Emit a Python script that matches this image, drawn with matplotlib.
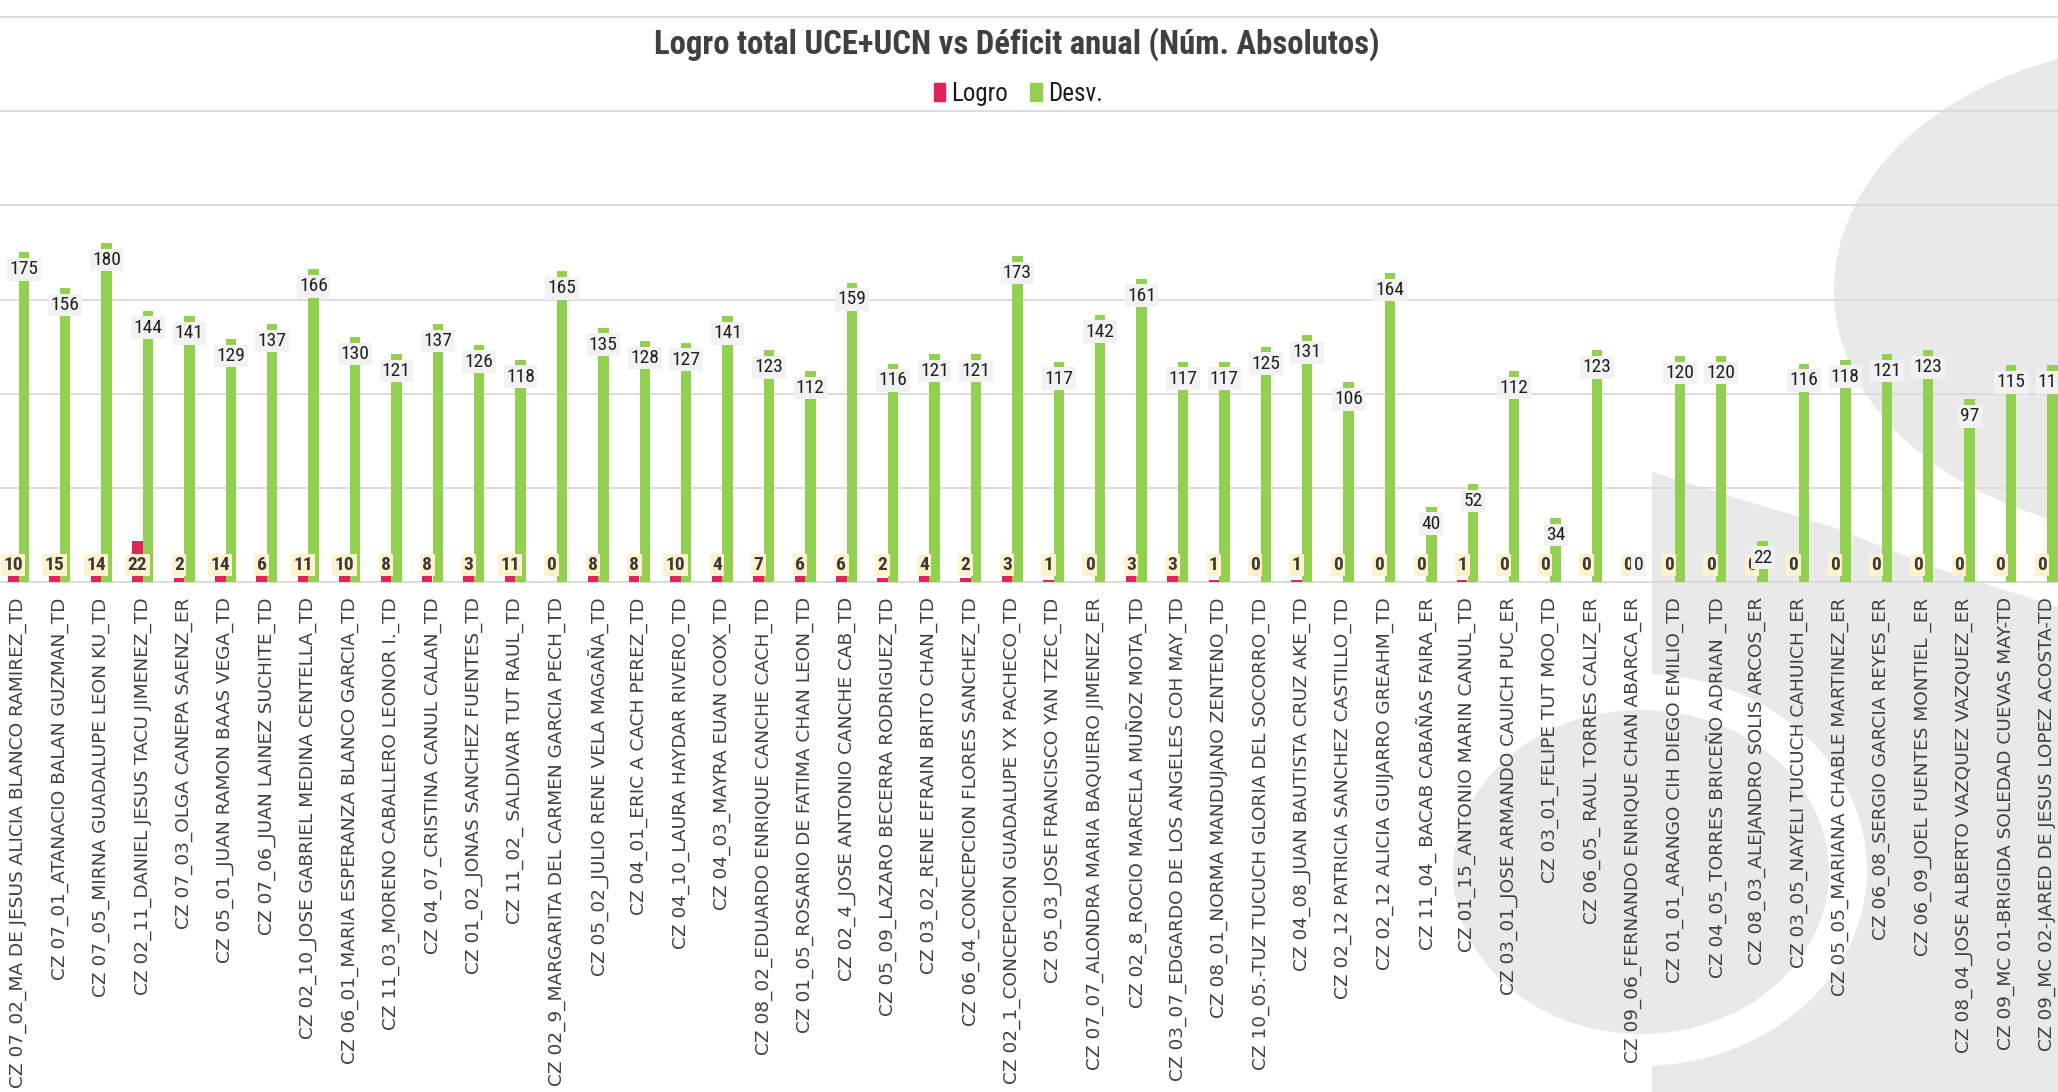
import matplotlib
matplotlib.use("Agg")
import matplotlib.pyplot as plt
import numpy as np
from matplotlib import font_manager
from matplotlib.patches import Ellipse, Polygon, Patch

nombres = [
    "CZ 07_02_MA DE JESUS ALICIA BLANCO RAMIREZ_TD",
    "CZ 07_01_ATANACIO BALAN GUZMAN_TD",
    "CZ 07_05_MIRNA GUADALUPE LEON KU_TD",
    "CZ 02_11_DANIEL JESUS TACU JIMENEZ_TD",
    "CZ 07_03_OLGA CANEPA SAENZ_ER",
    "CZ 05_01_JUAN RAMON BAAS VEGA_TD",
    "CZ 07_06_JUAN LAINEZ SUCHITE_TD",
    "CZ 02_10_JOSE GABRIEL MEDINA CENTELLA_TD",
    "CZ 06_01_MARIA ESPERANZA BLANCO GARCIA_TD",
    "CZ 11_03_MORENO CABALLERO LEONOR I._TD",
    "CZ 04_07_CRISTINA CANUL CALAN_TD",
    "CZ 01_02_JONAS SANCHEZ FUENTES_TD",
    "CZ 11_02_ SALDIVAR TUT RAUL_TD",
    "CZ 02_9_MARGARITA DEL CARMEN GARCIA PECH_TD",
    "CZ 05_02_JULIO RENE VELA MAGAÑA_TD",
    "CZ 04_01_ERIC A CACH PEREZ_TD",
    "CZ 04_10_LAURA HAYDAR RIVERO_TD",
    "CZ 04_03_MAYRA EUAN COOX_TD",
    "CZ 08_02_EDUARDO ENRIQUE CANCHE CACH_TD",
    "CZ 01_05_ROSARIO DE FATIMA CHAN LEON_TD",
    "CZ 02_4_JOSE ANTONIO CANCHE CAB_TD",
    "CZ 05_09_LAZARO BECERRA RODRIGUEZ_TD",
    "CZ 03_02_RENE EFRAIN BRITO CHAN_TD",
    "CZ 06_04_CONCEPCION FLORES SANCHEZ_TD",
    "CZ 02_1_CONCEPCION GUADALUPE YX PACHECO_TD",
    "CZ 05_03_JOSE FRANCISCO YAN TZEC_TD",
    "CZ 07_07_ALONDRA MARIA BAQUIERO JIMENEZ_ER",
    "CZ 02_8_ROCIO MARCELA MUÑOZ MOTA_TD",
    "CZ 03_07_EDGARDO DE LOS ANGELES COH MAY_TD",
    "CZ 08_01_NORMA MANDUJANO ZENTENO_TD",
    "CZ 10_05.-TUZ TUCUCH GLORIA DEL SOCORRO_TD",
    "CZ 04_08_JUAN BAUTISTA CRUZ AKE_TD",
    "CZ 02_12 PATRICIA SANCHEZ CASTILLO_TD",
    "CZ 02_12 ALICIA GUIJARRO GREAHM_TD",
    "CZ 11_04_ BACAB CABAÑAS FAIRA_ER",
    "CZ 01_15_ANTONIO MARIN CANUL_TD",
    "CZ 03_01_JOSE ARMANDO CAUICH PUC_ER",
    "CZ 03_01_FELIPE TUT MOO_TD",
    "CZ 06_05_ RAUL TORRES CALIZ_ER",
    "CZ 09_06_FERNANDO ENRIQUE CHAN ABARCA_ER",
    "CZ 01_01_ARANGO CIH DIEGO EMILIO_TD",
    "CZ 04_05_TORRES BRICEÑO ADRIAN _TD",
    "CZ 08_03_ALEJANDRO SOLIS ARCOS_ER",
    "CZ 03_05_NAYELI TUCUCH CAHUICH_ER",
    "CZ 05_05_MARIANA CHABLE MARTINEZ_ER",
    "CZ 06_08_SERGIO GARCIA REYES_ER",
    "CZ 06_09_JOEL FUENTES MONTIEL _ER",
    "CZ 08_04_JOSE ALBERTO VAZQUEZ VAZQUEZ_ER",
    "CZ 09_MC 01-BRIGIDA SOLEDAD CUEVAS MAY-TD",
    "CZ 09_MC 02-JARED DE JESUS LOPEZ ACOSTA-TD",
]

logro = [10, 15, 14, 22, 2, 14, 6, 11, 10, 8,
         8, 3, 11, 0, 8, 8, 10, 4, 7, 6,
         6, 2, 4, 2, 3, 1, 0, 3, 3, 1,
         0, 1, 0, 0, 0, 1, 0, 0, 0, 0,
         0, 0, 0, 0, 0, 0, 0, 0, 0, 0]

desv = [175, 156, 180, 144, 141, 129, 137, 166, 130, 121,
        137, 126, 118, 165, 135, 128, 127, 141, 123, 112,
        159, 116, 121, 121, 173, 117, 142, 161, 117, 117,
        125, 131, 106, 164, 40, 52, 112, 34, 123, 0,
        120, 120, 22, 116, 118, 121, 123, 97, 115, 115]

titulo = "Logro total UCE+UCN vs Déficit anual (Núm. Absolutos)"

rojo = "#DE2458"
verde = "#92D050"
gris_fondo = "#E9E9E9"


def peso(wt):
    if isinstance(wt, str):
        return font_manager.weight_dict.get(wt, 400)
    return int(wt)


# buscar una letra angosta (tipo Arial Narrow) que tenga normal y negrita
fuentes = font_manager.fontManager.ttflist
familias = {}
for f in fuentes:
    if "Narrow" in f.name or "Condensed" in f.name:
        familias.setdefault(f.name, set()).add(peso(f.weight))
angosta, escala = "Liberation Sans", 0.8
preferidas = ["Liberation Sans Narrow", "Arial Narrow", "Roboto Condensed", "Open Sans Condensed"]
orden = preferidas + sorted(n for n in familias if n not in preferidas)
for n in orden:
    pesos = familias.get(n, set())
    if any(p >= 600 for p in pesos) and any(350 <= p < 600 for p in pesos):
        angosta, escala = n, 1.0
        break
else:
    if familias:
        angosta, escala = sorted(familias)[0], 1.0

W, H = 2058, 1092
fig = plt.figure(figsize=(W / 100, H / 100), dpi=100)
fig.patch.set_facecolor("white")

# marca de agua gris del fondo (en pixeles)
bg = fig.add_axes([0, 0, 1, 1], zorder=0)
bg.set_xlim(0, W)
bg.set_ylim(H, 0)
bg.axis("off")
bg.add_patch(Ellipse((2180, 290), 692, 494, color=gris_fondo, lw=0))
bg.add_patch(Polygon([(1652, 472), (1733, 497), (1833, 527), (1933, 567), (2058, 607),
                      (2058, 1092), (1652, 1092)], closed=True, color=gris_fondo, lw=0))
bg.add_patch(Ellipse((1641, 870), 452, 392, color="white", lw=0))
bg.add_patch(Ellipse((1641, 872), 376, 324, color=gris_fondo, lw=0))

# area del grafico
base_px, top_px = 582, 17
ymax = 302
alto = (base_px - top_px) * ymax / 300
ax = fig.add_axes([0, 1 - base_px / H, 1, alto / H], zorder=1)
ax.set_facecolor("none")

x = np.arange(len(nombres))
w = 0.254
ax.bar(x - w / 2, logro, w, color=rojo, zorder=3, label="Logro")
ax.bar(x + w / 2, desv, w, color=verde, zorder=3, label="Desv.")

paso = 41.4
x0 = -18.5 / paso
ax.set_xlim(x0, x0 + W / paso)
ax.set_ylim(0, ymax)

ax.set_yticks(range(0, 301, 50))
ax.yaxis.grid(True, color="#D9D9D9", linewidth=1.3, zorder=0)
ax.tick_params(axis="y", length=0, labelleft=False)
for s in ["top", "left", "right"]:
    ax.spines[s].set_visible(False)
ax.spines["bottom"].set_color("#D9D9D9")
ax.spines["bottom"].set_linewidth(1.3)

ax.set_xticks(x)
ax.set_xticklabels(nombres, rotation=90, fontsize=13.3, color="#404040", family="DejaVu Sans")
ax.tick_params(axis="x", length=0, pad=11)

# etiquetas de datos
for xi, v in zip(x, logro):
    ax.text(xi - w / 2, 9, str(v), ha="center", va="center", fontsize=13 * escala + 1,
            fontweight="bold", family=angosta, color="#3A3A3A", zorder=5,
            bbox=dict(boxstyle="square,pad=0.12", fc="#FFF2CC", ec="none"))
for xi, v in zip(x, desv):
    ax.text(xi + w / 2, max(v - 9, 9), str(v), ha="center", va="center", fontsize=14 * escala,
            family=angosta, color="#1F1F1F", zorder=6,
            bbox=dict(boxstyle="square,pad=0.12", fc="#F2F2F2", ec="none"))

fig.text(1017 / W, 1 - 54 / H, titulo, ha="center", va="baseline", fontsize=23.6 * escala,
         fontweight="bold", family=angosta, color="#404040")

handles = [Patch(color=rojo), Patch(color=verde)]
fig.legend(handles, ["Logro", "Desv."], loc="center", bbox_to_anchor=(1018 / W, 1 - 94 / H),
           ncol=2, frameon=False,
           prop=dict(family=angosta, size=18 * escala),
           handlelength=0.45, handleheight=0.75, handletextpad=0.25, columnspacing=0.9,
           labelcolor="#1A1A1A")

fig.savefig("out.png", dpi=100)
